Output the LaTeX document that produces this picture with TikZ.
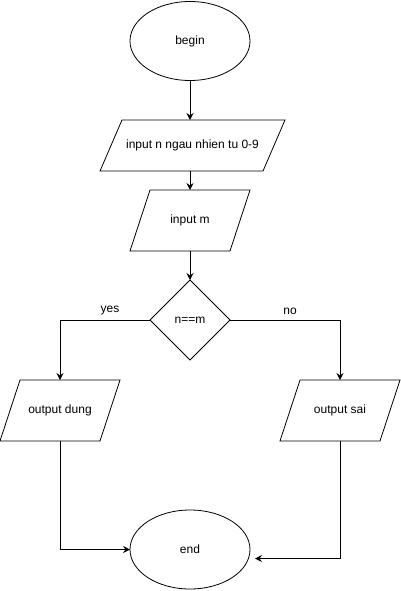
\documentclass[tikz,border=0pt]{standalone}
\usepackage{fontspec}
\setmainfont{Liberation Sans}
\usetikzlibrary{shapes.geometric,arrows.meta}
\tikzset{
  base/.style={draw, line width=0.8pt, font=\fontsize{12}{14}\selectfont, inner sep=0pt, outer sep=0pt},
  term/.style={base, ellipse, minimum width=120pt, minimum height=79pt},
  io/.style={base, draw=none, rectangle},
  cond/.style={base, diamond, minimum width=80pt, minimum height=80pt},
  lbl/.style={font=\fontsize{12}{14}\selectfont, inner sep=0pt},
  arr/.style={line width=0.8pt, -{Stealth[length=7pt,width=7pt,inset=2.5pt]}},
  link/.style={line width=0.8pt}
}
% parallelogram outline round an io node: #1 node, #2 slant
\newcommand{\ioframe}[2]{%
  \draw[link] ([xshift=#2]#1.north west) -- (#1.north east) -- ([xshift=-#2]#1.south east) -- (#1.south west) -- cycle;}
\begin{document}
\begin{tikzpicture}[x=1pt,y=-1pt]
    \useasboundingbox (0,0) rectangle (401,591);
    % nodes
    \node[term] (begin) at (190,41) {begin};
    \node[io, minimum width=185pt, minimum height=51pt] (inn) at (192.5,145.5) {input n ngau nhien tu 0-9};
    \node[io, minimum width=120pt, minimum height=61pt] (inm) at (190,220.5) {input m};
    \node[cond] (check) at (190,320) {n==m};
    \node[io, minimum width=120pt, minimum height=61pt] (outdung) at (60,410.5) {output dung};
    \node[io, minimum width=120pt, minimum height=61pt] (outsai) at (340,410.5) {output sai};
    \node[term] (end) at (190,549.5) {end};
    \node[lbl] (yes) at (110,311) {yes};
    \node[lbl] (no) at (290,311) {no};
    \ioframe{inn}{22pt}
    \ioframe{inm}{20pt}
    \ioframe{outdung}{20pt}
    \ioframe{outsai}{20pt}
    % connectors
    \draw[arr] (begin.south) -- (begin.south |- inn.north);
    \draw[arr] (inm.north |- inn.south) -- (inm.north);
    \draw[arr] (inm.south) -- (check.north);
    \draw[arr] (check.west) -| (outdung.north);
    \draw[arr] (check.east) -| (outsai.north);
    \draw[arr] (outdung.south) |- (end.west);
    \draw[arr, shorten >=5pt] (outsai.south) |- ([yshift=-9pt]end.east);
\end{tikzpicture}
\end{document}
